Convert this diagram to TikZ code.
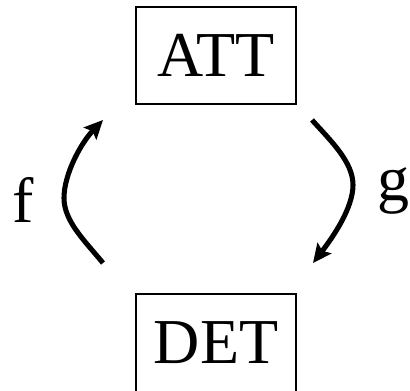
\documentclass[tikz,border=0pt]{standalone}
\usepackage{fontspec}
\setmainfont{Liberation Serif}
\usepackage{tikz}
\usetikzlibrary{arrows.meta,positioning}
\tikzset{
  every node/.style={font=\fontsize{48}{57}\selectfont},
  setbox/.style={draw=black,line width=1.5pt,minimum width=120pt,minimum height=72.75pt,inner sep=0pt},
  maparrow/.style={black,line width=3.8pt,-{Stealth[length=14pt,width=13pt,inset=2.5pt]}},
  maplabel/.style={anchor=base,inner sep=0pt}
}
\begin{document}
\begin{tikzpicture}[x=0.75pt,y=-0.75pt]
\useasboundingbox (0,0) rectangle (410,391);
% the two boxes
\node[setbox] (att) at (216,55.5) {ATT};
\node[setbox] (det) at (216,343) {DET};
% free ends and bends of the arrows
\coordinate (f0) at (103,263);
\coordinate (fm) at (64,198);
\coordinate (f1) at (103,120);
\coordinate (g0) at (312,120);
\coordinate (gm) at (353,185);
\coordinate (g1) at (313,263);
% arrows between the boxes
\draw[maparrow] (f0) .. controls (84,240) and (64,221) .. (fm)
  .. controls (64,174) and (81,143) .. (f1);
\draw[maparrow] (g0) .. controls (331,141) and (353,162) .. (gm)
  .. controls (353,208) and (333,237) .. (g1);
\node[maplabel] (flab) at (23,223) {f};
\node[maplabel] (glab) at (393,201) {g};
\end{tikzpicture}
\end{document}
